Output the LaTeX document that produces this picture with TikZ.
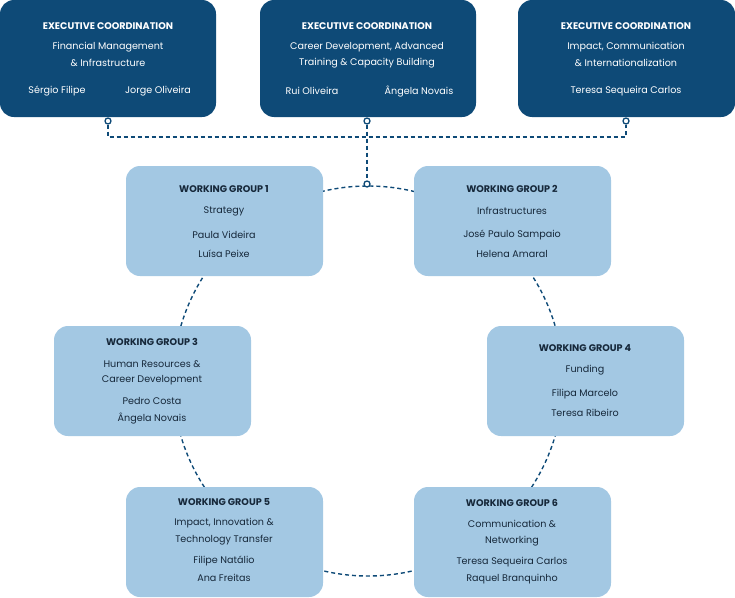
\documentclass[tikz,border=0pt]{standalone}
\usepackage{fontspec}
\setmainfont{Poppins}
\begin{document}
\begin{tikzpicture}[x=1pt,y=-1pt,
  dark/.style={fill=darkb,draw=none,rounded corners=14pt},
  light/.style={fill=lightb,draw=none,rounded corners=14pt},
  t/.style={text=white,font=\fontsize{9.6}{11}\selectfont\bfseries,inner sep=0},
  s/.style={text=white,font=\fontsize{9.6}{11}\selectfont,inner sep=0},
  lt/.style={text=txt,font=\fontsize{9.6}{11}\selectfont\bfseries,inner sep=0},
  ls/.style={text=txt,font=\fontsize{9.6}{11}\selectfont,inner sep=0},
  dsh/.style={draw=darkb,line width=1.4pt,dash pattern=on 4pt off 3pt},
  dot/.style={circle,draw=darkb,fill=white,line width=1.3pt,inner sep=0,minimum size=6pt}]
\definecolor{darkb}{HTML}{0E4A77}
\definecolor{lightb}{HTML}{A3C8E3}
\definecolor{txt}{HTML}{16283A}
\useasboundingbox (0,0) rectangle (735,597);
% circle
\draw[dsh] (368,381) circle[radius=195pt];
% connectors
\coordinate (h1) at (108,137); \coordinate (h3) at (626,137); \coordinate (h2) at (367,137);
\node[dot] (d1) at (108,121) {};
\node[dot] (d2) at (367,121) {};
\node[dot] (d3) at (626,121) {};
\node[dot] (d4) at (367,184) {};
\draw[dsh] (d1) -- (h1) -- (h3) -- (d3);
\draw[dsh] (d2) -- (d4);
% exec boxes
\fill[dark] (0,0) rectangle (216,117);
\fill[dark] (260,0) rectangle (476,117);
\fill[dark] (518,0) rectangle (735,117);
\node[t] (e1) at (108,26) {EXECUTIVE COORDINATION};
\node[s] (e1a) at (108,47) {Financial Management};
\node[s] (e1b) at (108,63) {\& Infrastructure};
\node[s] (e1c) at (57,91) {Sérgio Filipe};
\node[s] (e1d) at (158,91) {Jorge Oliveira};
\node[t] (e2) at (367,26) {EXECUTIVE COORDINATION};
\node[s] (e2a) at (367,47) {Career Development, Advanced};
\node[s] (e2b) at (367,63) {Training \& Capacity Building};
\node[s] (e2c) at (312,91) {Rui Oliveira};
\node[s] (e2d) at (419,91) {Ângela Novais};
\node[t] (e3) at (626,26) {EXECUTIVE COORDINATION};
\node[s] (e3a) at (626,47) {Impact, Communication};
\node[s] (e3b) at (626,63) {\& Internationalization};
\node[s] (e3c) at (626,91) {Teresa Sequeira Carlos};
% working groups
\fill[light] (126,166) rectangle (323,276);
\fill[light] (414,166) rectangle (611,276);
\fill[light] (54,326) rectangle (251,436);
\fill[light] (487,326) rectangle (684,436);
\fill[light] (126,487) rectangle (323,597);
\fill[light] (414,487) rectangle (611,597);
\node[lt] (w1) at (224,189) {WORKING GROUP 1};
\node[ls] (w1a) at (224,211) {Strategy};
\node[ls] (w1b) at (224,235) {Paula Videira};
\node[ls] (w1c) at (224,254) {Luísa Peixe};
\node[lt] (w2) at (512,189) {WORKING GROUP 2};
\node[ls] (w2a) at (512,211) {Infrastructures};
\node[ls] (w2b) at (512,235) {José Paulo Sampaio};
\node[ls] (w2c) at (512,254) {Helena Amaral};
\node[lt] (w3) at (152,342) {WORKING GROUP 3};
\node[ls] (w3a) at (152,364) {Human Resources \&};
\node[ls] (w3b) at (152,380) {Career Development};
\node[ls] (w3c) at (152,401) {Pedro Costa};
\node[ls] (w3d) at (152,418) {Ângela Novais};
\node[lt] (w4) at (585,348) {WORKING GROUP 4};
\node[ls] (w4a) at (585,370) {Funding};
\node[ls] (w4b) at (585,394) {Filipa Marcelo};
\node[ls] (w4c) at (585,413) {Teresa Ribeiro};
\node[lt] (w5) at (224,502) {WORKING GROUP 5};
\node[ls] (w5a) at (224,523) {Impact, Innovation \&};
\node[ls] (w5b) at (224,540) {Technology Transfer};
\node[ls] (w5c) at (224,561) {Filipe Natálio};
\node[ls] (w5d) at (224,578) {Ana Freitas};
\node[lt] (w6) at (512,503) {WORKING GROUP 6};
\node[ls] (w6a) at (512,524) {Communication \&};
\node[ls] (w6b) at (512,541) {Networking};
\node[ls] (w6c) at (512,562) {Teresa Sequeira Carlos};
\node[ls] (w6d) at (512,579) {Raquel Branquinho};
\end{tikzpicture}
\end{document}
